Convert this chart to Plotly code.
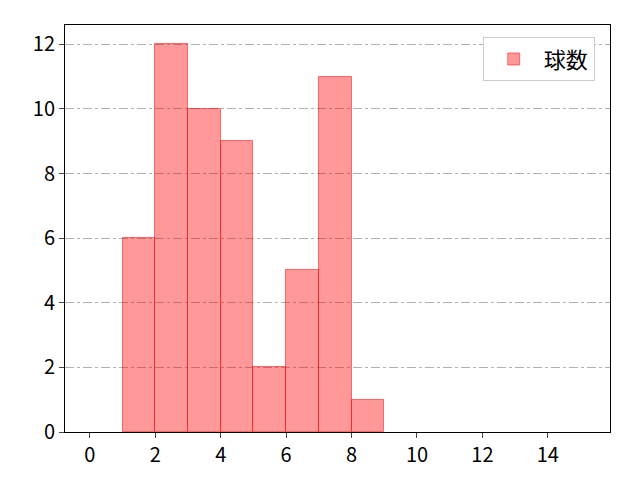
import plotly.graph_objects as go

# histogram bins (left edge) and counts
bin_left = [1, 2, 3, 4, 5, 6, 7, 8]
counts = [6, 12, 10, 9, 2, 5, 11, 1]
bin_width = 1
series_name = "球数"

x_ticks = [0, 2, 4, 6, 8, 10, 12, 14]
y_ticks = [0, 2, 4, 6, 8, 10, 12]

centers = [b + bin_width / 2 for b in bin_left]

fig = go.Figure()
fig.add_trace(go.Bar(
    x=centers, y=counts, width=bin_width, name=series_name,
    marker=dict(color="rgba(255,0,0,0.4)", line=dict(color="rgba(255,0,0,0.5)", width=1)),
    showlegend=True,
))

# page body has an 8px margin, so margins are shifted to compensate
fig.update_layout(
    width=640, height=480,
    margin=dict(l=57, r=38, t=17, b=56),
    plot_bgcolor="white", paper_bgcolor="white",
    font=dict(family="Noto Sans CJK JP, DejaVu Sans", size=20, color="black"),
    bargap=0,
    legend=dict(x=0.972, y=0.97, xanchor="right", yanchor="top",
                bordercolor="#cccccc", borderwidth=1, bgcolor="white",
                font=dict(size=22), itemwidth=50),
)
fig.update_xaxes(range=[-0.76, 15.9], tickvals=x_ticks, showgrid=False,
                 showline=True, linecolor="black", linewidth=1, mirror=True,
                 ticks="outside", ticklen=5, zeroline=False)
fig.update_yaxes(range=[0, 12.6], tickvals=y_ticks, showgrid=True,
                 gridcolor="#b0b0b0", griddash="dashdot", gridwidth=1,
                 showline=True, linecolor="black", linewidth=1, mirror=True,
                 ticks="outside", ticklen=5, zeroline=False)

fig.write_html("out.html")
